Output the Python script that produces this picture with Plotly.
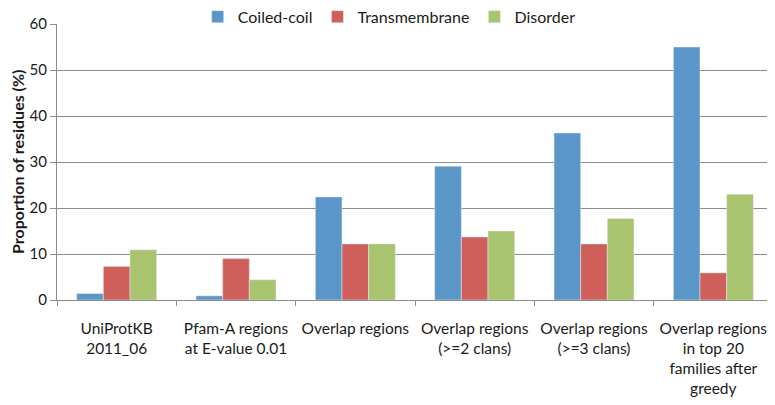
import plotly.graph_objects as go

categories = [
    "UniProtKB<br>2011_06",
    "Pfam-A regions<br>at E-value 0.01",
    "Overlap regions",
    "Overlap regions<br>(>=2 clans)",
    "Overlap regions<br>(>=3 clans)",
    "Overlap regions<br>in top 20<br>families after<br>greedy",
]
coiled_coil = [1.4, 0.9, 22.4, 29.1, 36.3, 55.0]
transmembrane = [7.3, 9.0, 12.2, 13.7, 12.2, 5.9]
disorder = [10.9, 4.4, 12.2, 15.0, 17.7, 23.0]
y_ticks = [0, 10, 20, 30, 40, 50, 60]

FONT = "Lato, 'Open Sans', sans-serif"

fig = go.Figure()
fig.add_trace(go.Bar(name="Coiled-coil", x=categories, y=coiled_coil, marker_color="#5b96c9"))
fig.add_trace(go.Bar(name="Transmembrane", x=categories, y=transmembrane, marker_color="#cf5f5a"))
fig.add_trace(go.Bar(name="Disorder", x=categories, y=disorder, marker_color="#a9c46e"))

# page body has an 8px default margin, so the figure is sized to fit the window
fig.update_layout(
    width=767, height=397,
    margin=dict(l=49, r=2, t=16, b=105, autoexpand=False),
    paper_bgcolor="white", plot_bgcolor="white",
    barmode="group", bargap=0.33, bargroupgap=0,
    font=dict(family=FONT, color="#1a1a1a", size=16),
    legend=dict(orientation="h", x=0.497, xanchor="center", xref="container",
                y=0.978, yanchor="middle", yref="container",
                font=dict(size=16), traceorder="normal", itemwidth=30),
    xaxis=dict(showline=True, linecolor="#8c8c8c", linewidth=1, ticks="outside",
               tickson="boundaries", ticklen=5, tickcolor="#8c8c8c", tickangle=0,
               tickfont=dict(size=15.5), showgrid=False, automargin=False,
               ticklabelstandoff=14),
    yaxis=dict(range=[0, 60], tickvals=y_ticks, showline=True, linecolor="#8c8c8c",
               ticks="outside", ticklen=6, tickcolor="#8c8c8c",
               gridcolor="#8c8c8c", gridwidth=1, tickfont=dict(size=15),
               ticklabelstandoff=0,
               zeroline=False, automargin=False),
    annotations=[dict(text="<b>Proportion of residues (%)</b>", textangle=-90,
                      xref="paper", yref="paper", x=0, y=0.5, xanchor="center",
                      yanchor="middle", xshift=-40, showarrow=False,
                      font=dict(size=16, family=FONT, color="#1a1a1a"))],
)

fig.write_html("out.html")
